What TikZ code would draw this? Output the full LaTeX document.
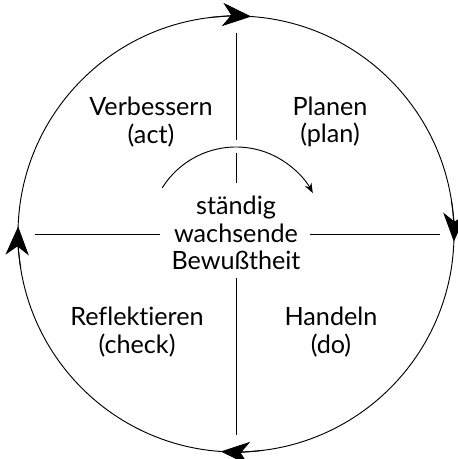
\documentclass[tikz,border=0pt]{standalone}
\usepackage{fontspec}
\setmainfont{Lato}[Ligatures=NoCommon]
\usetikzlibrary{arrows.meta, positioning}

\tikzset{
  phase/.style={align=center, font=\fontsize{21.5}{23.5}\selectfont},
  cyclehead/.style={-{Stealth[length=8.6mm, width=7mm, inset=2.6mm]}},
  swirlhead/.style={-{Stealth[length=3mm, width=2.2mm]}},
}

\begin{document}
\begin{tikzpicture}[x=0.03cm, y=0.03cm, line width=0.8pt]
  \useasboundingbox (-236,-225) rectangle (221,234);
  % outer cycle with its four heads
  \draw (0,0) circle (218);
  \draw[cyclehead] (97:218) arc (97:86:218);
  \draw[cyclehead] (9:218) arc (9:-2:218);
  \draw[cyclehead] (277:218) arc (277:266:218);
  \draw[cyclehead] (189:218) arc (189:178:218);
  % cross
  \draw (0,201) -- (0,94);
  \draw (0,81) -- (0,51);
  \draw (0,-44) -- (0,-201);
  \draw (-201,0) -- (-76,0);
  \draw (74,0) -- (204,0);
  % inner arrow
  \draw[swirlhead] (148:87) arc (148:28:87);
  % labels
  \node[phase] (aware) at (0,1) {ständig\\wachsende\\Bewußtheit};
  \node[phase] (act) at (-85,112) {Verbessern\\(act)};
  \node[phase] (plan) at (94,112) {Planen\\(plan)};
  \node[phase] (check) at (-99,-98) {Reflektieren\\(check)};
  \node[phase] (do) at (95,-98) {Handeln\\(do)};
\end{tikzpicture}
\end{document}
